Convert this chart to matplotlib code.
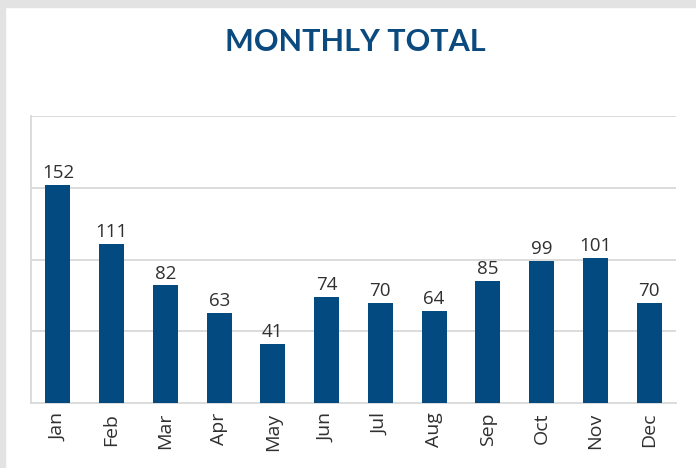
import matplotlib
matplotlib.use('Agg')
import matplotlib.pyplot as plt
from matplotlib.patches import Rectangle

# Data
months = ['Jan', 'Feb', 'Mar', 'Apr', 'May', 'Jun', 'Jul', 'Aug', 'Sep', 'Oct', 'Nov', 'Dec']
totals = [152, 111, 82, 63, 41, 74, 70, 64, 85, 99, 101, 70]

bar_color = '#034a80'
grid_color = '#d9d9d9'
text_color = '#303030'

fig = plt.figure(figsize=(6.96, 4.68), dpi=100)
fig.patch.set_facecolor('white')

# grey frame on top and left edge
fig.patches.append(Rectangle((0, 1 - 7 / 468), 1, 7 / 468, transform=fig.transFigure,
                             color='#e4e3e4', zorder=0))
fig.patches.append(Rectangle((0, 0), 5 / 696, 1, transform=fig.transFigure,
                             color='#e4e3e4', zorder=0))

ax = fig.add_axes([31 / 696, 65 / 468, 645 / 696, 287 / 468])

x = range(len(months))
bars = ax.bar(x, totals, width=0.465, color=bar_color, zorder=3)

for b, v in zip(bars, totals):
    ax.annotate(str(v), (b.get_x() + b.get_width() / 2, v), xytext=(0, 2),
                textcoords='offset points', ha='center', va='bottom',
                fontsize=13.5, color=text_color, family='Open Sans')

ax.set_xlim(-0.5, len(months) - 0.5)
ax.set_ylim(0, 200)
ax.set_yticks([50, 100, 150, 200])
ax.yaxis.grid(True, color=grid_color, linewidth=1.3, zorder=0)
ax.tick_params(axis='y', length=0, labelleft=False)
ax.set_xticks(list(x))
ax.set_xticklabels(months, rotation=90, fontsize=14, color=text_color, family='Open Sans')
ax.tick_params(axis='x', length=0, pad=7)

for s in ['top', 'right']:
    ax.spines[s].set_visible(False)
for s in ['left', 'bottom']:
    ax.spines[s].set_color(grid_color)
    ax.spines[s].set_linewidth(1.3)

fig.text(355 / 696, 1 - 42 / 468, 'MONTHLY TOTAL', ha='center', va='center',
         fontsize=22, fontweight='bold', color='#0b4a7e', family='Lato')

fig.savefig('out.png', dpi=100)
